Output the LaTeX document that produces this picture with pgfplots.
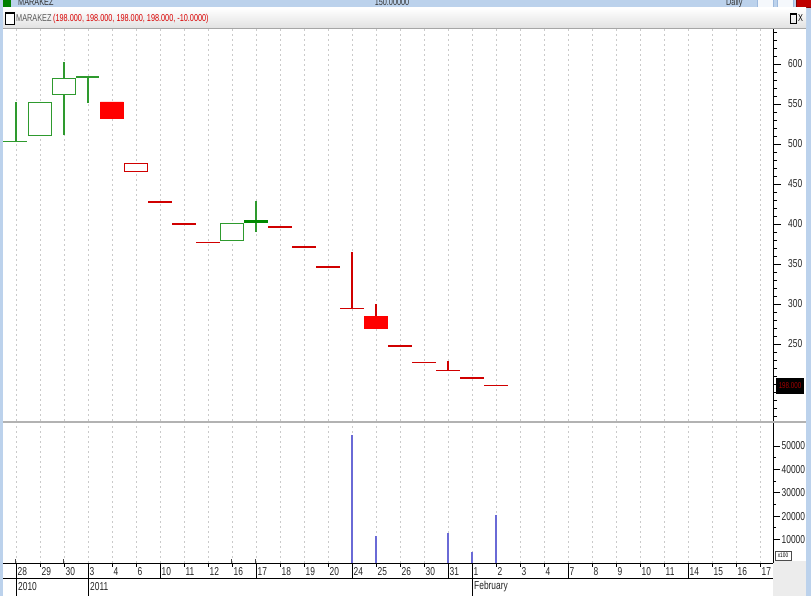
\documentclass[border=0pt]{standalone}
\usepackage{pgfplots}
\pgfplotsset{compat=1.18}
\usepackage{fontspec}
\setmainfont{Liberation Sans}[FakeStretch=0.73]
\definecolor{winblue}{HTML}{BCD2EC}
\definecolor{winblue2}{HTML}{9DB9DD}
\definecolor{gridgray}{HTML}{CACACA}
\definecolor{upgreen}{HTML}{2E9A2E}
\definecolor{upgreendk}{HTML}{008A00}
\definecolor{dnred}{HTML}{FF0000}
\definecolor{lnred}{HTML}{D00000}
\definecolor{volblue}{HTML}{6A6AD6}
\definecolor{hdrgray}{HTML}{E2E2E2}
\newcommand{\lab}{\fontsize{11.5}{12}\selectfont}
\newcommand{\hdr}{\fontsize{10}{11}\selectfont}
\begin{document}
\begin{tikzpicture}
\useasboundingbox (0pt,0pt) rectangle (811pt,596pt);
\begin{scope}[x=1pt,y=1pt]
\fill[white] (0,0) rectangle (811,596);
% window borders
\fill[winblue] (0,0) rectangle (3,596);
\fill[winblue] (806,0) rectangle (811,596);
\fill[winblue] (0,588) rectangle (811,596);
\begin{scope}
\clip (0,588) rectangle (811,596);
\node[anchor=base west, inner sep=0pt, font=\hdr, text=black!80] at (18,590) {MARAKEZ};
\node[anchor=base, inner sep=0pt, font=\hdr, text=black!80] at (392,590) {150.00000};
\node[anchor=base west, inner sep=0pt, font=\hdr, text=black!80] at (726,590) {Daily};
\fill[white!85!winblue, draw=winblue2] (757,589) rectangle (773,598);
\fill[white!85!winblue, draw=winblue2] (777,589) rectangle (793,598);
\fill[red!75!black, draw=red!50!black] (796,589) rectangle (811,598);
\fill[green!50!black] (3,589) rectangle (11,598);
\end{scope}
% second bar
\shade[top color=white, bottom color=hdrgray] (3,568) rectangle (806,588);
\draw[gray!70] (3,568) -- (806,568);
\draw[black, fill=white, line width=0.8pt] (5,572) rectangle (14,584);
\draw[black, line width=2pt] (5,583) -- (14,583);
\node[anchor=base west, inner sep=0pt, font=\hdr, text=black!65] at (16,574) {MARAKEZ};
\node[anchor=base west, inner sep=0pt, font=\hdr, text=red!85!black] at (53,574) {(198.000, 198.000, 198.000, 198.000, -10.0000)};
\draw[black, line width=0.8pt] (790,573) rectangle (796,583);
\draw[black, line width=1.6pt] (790,582) -- (796,582);
\node[anchor=base west, inner sep=0pt, font=\hdr] at (798,574) {X};
% separator between panels
\fill[gray!60] (3,173) rectangle (806,175);
% grey block at lower right
\fill[gray!15] (773,0) rectangle (806,35);
\end{scope}

% ---------------- price panel ----------------
\begin{axis}[
  at={(3pt,175pt)}, anchor=south west, scale only axis,
  width=770pt, height=392pt,
  xmin=-0.54, xmax=31.54, ymin=153.75, ymax=643.75,
  axis x line*=bottom, axis y line*=right,
  x axis line style={draw=none},
  y axis line style={black, line width=0.8pt},
  xtick={0,...,31}, xticklabels={}, xtick style={draw=none},
  xmajorgrids,
  major grid style={gridgray, dash pattern=on 2pt off 3pt, line width=0.8pt},
  ytick={150,200,...,650},
  yticklabels={,,250,300,350,400,450,500,550,600,},
  minor y tick num=4,
  tick align=outside,
  major tick length=8pt, minor tick length=4pt,
  ytick style={black, line width=0.8pt},
  yticklabel style={font=\lab, anchor=west, inner sep=0pt, xshift=7pt, text=black!85},
  unbounded coords=jump,
  clip=false,
]
% green wicks
\addplot[upgreen, line width=1.1pt] coordinates {
 (0,503) (0,553) (0,nan)
 (2,511) (2,603) (2,nan)
 (3,551) (3,583.5) (3,nan)
 (10,390) (10,429)
};
% red wicks
\addplot[lnred, line width=1.1pt] coordinates {
 (14,294.5) (14,364.5) (14,nan)
 (15,284) (15,300) (15,nan)
 (18,217) (18,229)
};
% green flat candles
\addplot[upgreen, line width=1.4pt] coordinates {
 (-0.52,503) (0.48,503) (0,nan)
 (2.52,583.5) (3.48,583.5)
};
% red flat candles
\addplot[lnred, line width=1.4pt] coordinates {
 (5.52,427.5) (6.48,427.5) (6,nan)
 (6.52,400) (7.48,400) (7,nan)
 (7.52,376.5) (8.48,376.5) (8,nan)
 (10.52,396) (11.48,396) (11,nan)
 (11.52,371) (12.48,371) (12,nan)
 (12.52,346) (13.48,346) (13,nan)
 (13.52,294.5) (14.48,294.5) (14,nan)
 (15.52,247.5) (16.48,247.5) (16,nan)
 (16.52,227) (17.48,227) (17,nan)
 (17.52,217) (18.48,217) (18,nan)
 (18.52,207.5) (19.48,207.5) (19,nan)
 (19.52,198) (20.48,198)
};
% hollow green bodies
\addplot[draw=upgreen, fill=white, line width=1pt] coordinates {(0.52,511) (1.48,511) (1.48,552) (0.52,552) (0.52,511)};
\addplot[draw=upgreen, fill=white, line width=1pt] coordinates {(1.52,562) (2.48,562) (2.48,582) (1.52,582) (1.52,562)};
\addplot[draw=upgreen, fill=white, line width=1pt] coordinates {(8.52,379) (9.48,379) (9.48,400) (8.52,400) (8.52,379)};
% filled green body
\addplot[draw=upgreendk, fill=upgreendk, line width=0.6pt] coordinates {(9.52,401.5) (10.48,401.5) (10.48,404.5) (9.52,404.5) (9.52,401.5)};
% filled red bodies
\addplot[draw=dnred, fill=dnred, line width=0.6pt] coordinates {(3.52,532) (4.48,532) (4.48,552.5) (3.52,552.5) (3.52,532)};
\addplot[draw=dnred, fill=dnred, line width=0.6pt] coordinates {(14.52,269) (15.48,269) (15.48,284) (14.52,284) (14.52,269)};
% hollow red body
\addplot[draw=lnred, fill=white, line width=1pt] coordinates {(4.52,466) (5.48,466) (5.48,476) (4.52,476) (4.52,466)};
\end{axis}

% ---------------- volume panel ----------------
\begin{axis}[
  at={(3pt,33pt)}, anchor=south west, scale only axis,
  width=770pt, height=140pt,
  xmin=-0.54, xmax=31.54, ymin=0, ymax=59830,
  axis x line*=bottom, axis y line*=right,
  axis line style={black, line width=0.8pt},
  xtick={0,...,31},
  xticklabels={28,29,30,3,4,6,10,11,12,16,17,18,19,20,24,25,26,30,31,1,2,3,4,7,8,9,10,11,14,15,16,17},
  xticklabel style={font=\lab, anchor=north west, inner sep=0pt, xshift=1.5pt, text=black!85},
  extra x ticks={0,3,6,10,14,18,19,23,28},
  extra x tick labels={},
  extra x tick style={major tick length=15pt, grid=none},
  xmajorgrids,
  major grid style={gridgray, dash pattern=on 2pt off 3pt, line width=0.8pt},
  ytick={10000,20000,30000,40000,50000},
  yticklabels={10000,20000,30000,40000,50000},
  extra y ticks={10000,20000,30000,40000,50000},
  extra y tick labels={},
  extra y tick style={major tick length=7pt},
  scaled y ticks=false,
  minor y tick num=1,
  tick align=outside,
  major tick length=4pt, minor tick length=3pt,
  tick style={black, line width=0.8pt},
  yticklabel style={font=\lab, anchor=west, inner sep=0pt, xshift=4.5pt, text=black!85},
  clip=false,
]
\addplot[ycomb, gray!55!black, line width=1pt] coordinates {(0,1700) (2,1700) (9,1700) (10,1700)};
\addplot[ycomb, volblue, line width=1.3pt] coordinates {(14,54700) (15,11540) (18,12800) (19,4830) (20,20500)};
\end{axis}

\begin{scope}[x=1pt,y=1pt]
% date band below the axes
\draw[black, line width=0.8pt] (3,18) -- (773,18);
\draw[black, line width=0.8pt] (15.96,0) -- (15.96,18);
\draw[black, line width=0.8pt] (87.96,0) -- (87.96,18);
\draw[black, line width=0.8pt] (472,0) -- (472,18);
\node[anchor=west, inner sep=0pt, font=\lab, text=black!85] at (18,9) {2010};
\node[anchor=west, inner sep=0pt, font=\lab, text=black!85] at (90,9) {2011};
\node[anchor=west, inner sep=0pt, font=\lab, text=black!85] at (474,9) {February};
% last price tag and volume unit
\fill[black] (776,202) rectangle (804,218);
\node[inner sep=0pt, font=\fontsize{8.5}{9}\selectfont, text=red!65!black] at (790,210) {198.000};
\draw[black!70, fill=white] (775,36) rectangle (791,45);
\node[inner sep=0pt, font=\fontsize{6.5}{7}\selectfont] at (783,40.5) {x100};
\end{scope}
\end{tikzpicture}
\end{document}
